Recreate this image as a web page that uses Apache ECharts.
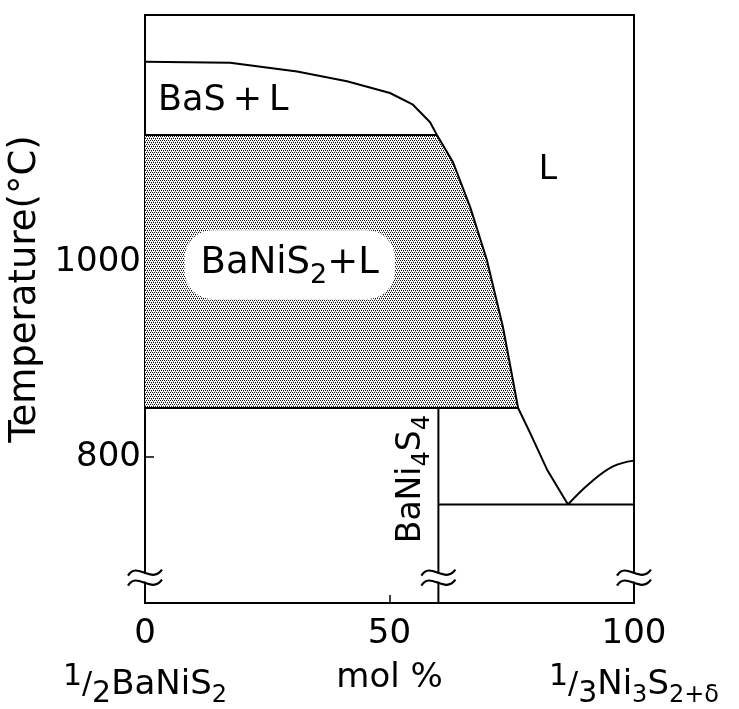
<!DOCTYPE html>
<html>
<head>
<meta charset="utf-8">
<script src="https://cdn.jsdelivr.net/npm/echarts@6/dist/echarts.min.js"></script>
<style>
  html, body { margin: 0; padding: 0; background: #fff; }
  #chart { width: 739px; height: 709px; }
</style>
</head>
<body>
<div id="chart"></div>
<script>
// liquidus from x=0 down to the eutectic (mol %, °C)
var liquidusX = [0, 17.4, 31.1, 41.3, 50.1, 54.8, 58.3, 59.7, 63.0, 66.5, 69.9, 73.2, 76.3, 78.7, 82.2, 86.5];
var liquidusT = [1205, 1204, 1195, 1185, 1173, 1161, 1143, 1130, 1102, 1056, 1002, 933, 850, 825, 787, 751];
// Ni3S2 side liquidus
var rightX = [86.5, 91.0, 95.7, 100];
var rightT = [751, 773, 790, 796];
// invariant lines
var peritecticT = 1130;
var lowerT = 850;
var eutecticT = 751;
var compoundX = 60;
var breakT = 676;
var breakXs = [0, 60, 100];
// axis ticks
var xTicks = [0, 50, 100];
var yTicks = [800, 1000];
var xNames = ['{n|1}{sl|/}{d|2}BaNiS{sub|2}', 'mol %', '{n|1}{sl|/}{d|3}Ni{sub|3}S{sub|2+δ}'];
// region labels
var labelX = [16, 82.4, 29.6, 54.5];
var labelT = [1165, 1094, 997, 777];
var labelText = ['BaS\u2009+\u2009L', 'L', '{big|BaNiS}{bsub|2}{big|+L}', 'BaNi{sub|4}S{sub|4}'];

var font = 'DejaVu Sans';

function pairs(xs, ts) {
  var out = [];
  xs.forEach(function (x, i) { out.push([x, ts[i]]); });
  return out;
}

// stipple fill for the BaNiS2 + L field
var pat = document.createElement('canvas');
pat.width = 4; pat.height = 4;
var ctx = pat.getContext('2d');
ctx.fillStyle = '#fff';
ctx.fillRect(0, 0, 4, 4);
ctx.fillStyle = '#111';
[[0, 0], [2, 0], [1, 2], [3, 2]].forEach(function (p) { ctx.fillRect(p[0], p[1], 1, 1); });
ctx.fillStyle = '#999';
[[1, 1], [3, 3]].forEach(function (p) { ctx.fillRect(p[0], p[1], 1, 1); });

// polygon of the shaded field: top peritectic line, liquidus, 850 line
var shaded = [[0, peritecticT]];
liquidusX.forEach(function (x, i) {
  if (liquidusT[i] <= peritecticT && liquidusT[i] >= lowerT) shaded.push([x, liquidusT[i]]);
});
shaded.push([0, lowerT]);

var lineStyle = { color: '#000', width: 2 };

var richLabels = {
  sub: { fontSize: 24, padding: [22, 0, 0, 0], fontFamily: font, color: '#000' },
  big: { fontSize: 37, fontFamily: font, color: '#000' },
  bsub: { fontSize: 27, padding: [24, 0, 0, 0], fontFamily: font, color: '#000' },
  n: { fontSize: 30, padding: [0, 0, 16, 0], fontFamily: font, color: '#000' },
  sl: { fontSize: 30, fontFamily: font, color: '#000' },
  d: { fontSize: 30, padding: [18, 0, 0, 0], fontFamily: font, color: '#000' }
};

var chart = echarts.init(document.getElementById('chart'));
chart.setOption({
  animation: false,
  backgroundColor: '#fff',
  grid: { left: 145, right: 105, top: 15, bottom: 106, outerBoundsMode: 'none', containLabel: false,
          show: true, borderColor: '#000', borderWidth: 2 },
  xAxis: [{
    type: 'value', min: 0, max: 100,
    splitLine: { show: false },
    axisLine: { lineStyle: { color: '#000', width: 2 } },
    axisTick: { inside: true, length: 8, customValues: [50], lineStyle: { color: '#000', width: 1.5 } },
    axisLabel: { customValues: xTicks, margin: 14, color: '#000', fontSize: 34, fontFamily: font,
                 formatter: function (v) { return String(v); } }
  }, {
    type: 'value', min: 0, max: 100, position: 'bottom', offset: 50,
    splitLine: { show: false }, axisLine: { show: false }, axisTick: { show: false },
    axisLabel: {
      customValues: xTicks, margin: 8, color: '#000', fontSize: 34, fontFamily: font,
      formatter: function (v) { return xNames[xTicks.indexOf(v)]; },
      rich: richLabels
    }
  }],
  yAxis: {
    type: 'value', min: 650, max: 1253,
    name: 'Temperature(°C)', nameLocation: 'middle', nameGap: 95, nameRotate: 90,
    nameTextStyle: { color: '#000', fontSize: 37, fontFamily: font, padding: [0, 0, 0, 40] },
    splitLine: { show: false },
    axisLine: { lineStyle: { color: '#000', width: 2 } },
    axisTick: { inside: true, length: 9, customValues: yTicks, lineStyle: { color: '#000', width: 1.5 } },
    axisLabel: { customValues: yTicks, margin: 4, color: '#000', fontSize: 34, fontFamily: font,
                 formatter: function (v) { return String(v); } }
  },
  series: [{
    type: 'custom',
    renderItem: function (params, api) {
      var pts = shaded.map(function (p) { return api.coord(p); });
      return { type: 'polygon', shape: { points: pts }, style: { fill: { image: pat, repeat: 'repeat' }, stroke: null } };
    },
    data: [0], silent: true, z: 1
  }, {
    type: 'line', data: pairs(liquidusX, liquidusT), symbol: 'none', lineStyle: lineStyle, z: 3
  }, {
    type: 'line', data: pairs(rightX, rightT), symbol: 'none', smooth: 0.4, lineStyle: lineStyle, z: 3
  }, {
    type: 'line', data: [[0, peritecticT], [59.7, peritecticT]], symbol: 'none', lineStyle: lineStyle, z: 3
  }, {
    type: 'line', data: [[0, lowerT], [76.3, lowerT]], symbol: 'none', lineStyle: lineStyle, z: 3
  }, {
    type: 'line', data: [[compoundX, eutecticT], [100, eutecticT]], symbol: 'none', lineStyle: lineStyle, z: 3
  }, {
    type: 'line', data: [[compoundX, lowerT], [compoundX, 650]], symbol: 'none', lineStyle: lineStyle, z: 3
  }, {
    type: 'custom', clip: false, z: 5, silent: true,
    data: breakXs.map(function (x) { return [x, breakT]; }),
    renderItem: function (params, api) {
      var p = api.coord([api.value(0), api.value(1)]);
      var kids = [{ type: 'rect', shape: { x: p[0] - 4, y: p[1] - 4, width: 8, height: 8 }, style: { fill: '#fff' } }];
      [-5, 5].forEach(function (o) {
        var y = p[1] + o;
        kids.push({
          type: 'bezierCurve',
          shape: { x1: p[0] - 17, y1: y + 3, cpx1: p[0] - 8, cpy1: y - 12, cpx2: p[0] + 6, cpy2: y + 12, x2: p[0] + 17, y2: y - 3 },
          style: { stroke: '#000', lineWidth: 2.2, fill: null }
        });
      });
      return { type: 'group', children: kids };
    }
  }, {
    type: 'scatter', symbolSize: 0, z: 6, silent: true,
    itemStyle: { opacity: 1 },
    data: labelX.map(function (x, i) {
      var item = { value: [x, labelT[i], labelText[i]] };
      if (i === 0) item.label = { fontSize: 35 };
      if (i === 2) item.label = { backgroundColor: '#fff', borderRadius: 28, padding: [8, 16, 10, 16] };
      if (i === 3) item.label = { rotate: 90 };
      return item;
    }),
    label: {
      show: true, position: 'inside', color: '#000', fontSize: 33, fontFamily: font, opacity: 1,
      textBorderWidth: 0, textShadowBlur: 0,
      formatter: function (p) { return p.value[2]; },
      rich: richLabels
    }
  }]
});
</script>
</body>
</html>
